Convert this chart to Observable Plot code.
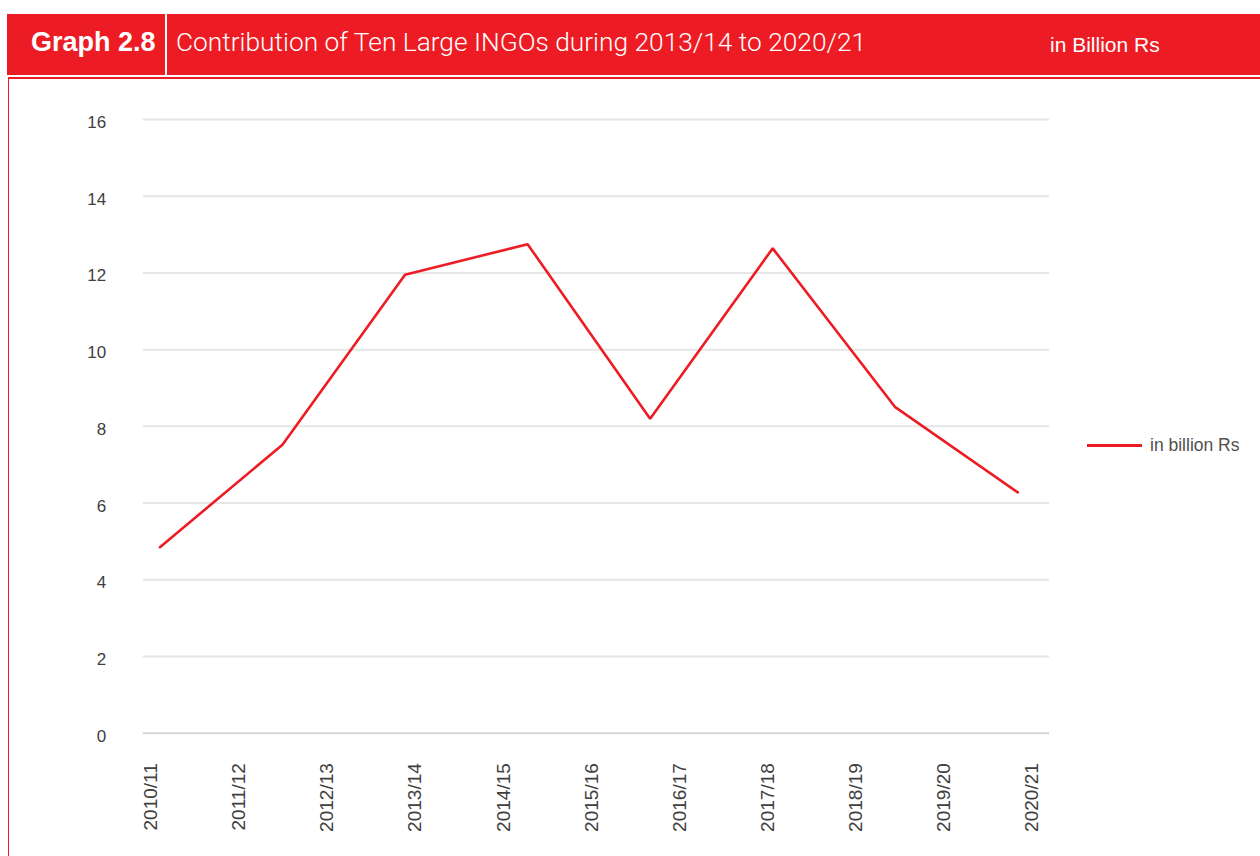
<!DOCTYPE html>
<html>
<head>
<meta charset="utf-8">
<script src="https://cdn.jsdelivr.net/npm/d3@7"></script>
<script src="https://cdn.jsdelivr.net/npm/@observablehq/plot@0.6"></script>
<style>
  html, body { margin: 0; padding: 0; background: #fff; width: 1260px; height: 856px; overflow: hidden; }
  #wrap { position: relative; width: 1260px; height: 856px; font-family: "Liberation Sans", Arial, sans-serif; }
  #band { position: absolute; left: 7px; top: 14px; width: 1253px; height: 61px; background: #ED1C24; }
  #sep { position: absolute; left: 165px; top: 14px; width: 2px; height: 61px; background: #fff; }
  #gnum { position: absolute; left: 31px; top: 26px; color: #fff; font-weight: bold; font-size: 27px; line-height: 32px; }
  #title { position: absolute; left: 176px; top: 27px; color: #fff; font-family: Roboto, "Liberation Sans", sans-serif; font-weight: 300; font-size: 26.3px; line-height: 30px; white-space: nowrap; }
  #unit { position: absolute; left: 1050px; top: 33px; color: #fff; font-size: 21px; line-height: 24px; white-space: nowrap; }
  #box { position: absolute; left: 8px; top: 77px; width: 1260px; height: 800px; border-top: 2px solid #ED1C24; border-left: 1px solid #ED1C24; box-sizing: border-box; }
  #chart { position: absolute; left: 0; top: 80px; }
  #legend { position: absolute; left: 1087px; top: 435px; display: flex; align-items: center; color: #505050; font-size: 17.5px; white-space: nowrap; }
  #legend .sw { width: 55px; height: 0; border-top: 3px solid #ED1C24; margin-right: 8px; }
</style>
</head>
<body>
<div id="wrap">
  <div id="band"></div>
  <div id="sep"></div>
  <div id="gnum">Graph 2.8</div>
  <div id="title">Contribution of Ten Large INGOs during 2013/14 to 2020/21</div>
  <div id="unit">in Billion Rs</div>
  <div id="box"></div>
  <div id="chart"></div>
  <div id="legend"><span class="sw"></span><span>in billion Rs</span></div>
</div>
<script>
// Axis category labels (as printed on the reference x axis)
const axisLabels = ["2010/11","2011/12","2012/13","2013/14","2014/15","2015/16","2016/17","2017/18","2018/19","2019/20","2020/21"];
// Series: fiscal years 2013/14 .. 2020/21
const seriesYears = ["2013/14","2014/15","2015/16","2016/17","2017/18","2018/19","2019/20","2020/21"];
const seriesValues = [4.85, 7.52, 11.95, 12.75, 8.2, 12.64, 8.5, 6.28];
const yTicks = [0, 2, 4, 6, 8, 10, 12, 14, 16];

// The reference spreads the 8 points evenly between the first and last slot of the 11-slot axis
const lineStart = 0.1, lineEnd = 9.84;
const rows = seriesYears.map((y, j) => ({
  year: y,
  value: seriesValues[j],
  pos: lineStart + j * (lineEnd - lineStart) / (seriesYears.length - 1)
}));

const chart = Plot.plot({
  width: 1260,
  height: 776,
  marginTop: 39,
  marginBottom: 123.3,
  marginLeft: 142.7,
  marginRight: 211,
  style: { fontFamily: "'Liberation Sans', Arial, sans-serif", fontSize: "17px", color: "#404040", background: "transparent" },
  x: { type: "linear", domain: [-0.09, 10.2] },
  y: { domain: [0, 16] },
  marks: [
    Plot.ruleY(yTicks.filter(d => d > 0), { stroke: "#e6e6e6", strokeWidth: 2 }),
    Plot.ruleY([0], { stroke: "#d6d6d6", strokeWidth: 2 }),
    Plot.axisY(yTicks, { tickSize: 0, tickPadding: 37, label: null, fill: "#404040", dy: 3 }),
    Plot.axisX(d3.range(axisLabels.length), {
      tickSize: 0, tickPadding: 30, tickRotate: -90, label: null, fill: "#404040", fontSize: 19,
      tickFormat: i => axisLabels[i]
    }),
    Plot.line(rows, { x: "pos", y: "value", stroke: "#ED1C24", strokeWidth: 2.6, strokeLinejoin: "miter" })
  ]
});
document.getElementById("chart").appendChild(chart);
</script>
</body>
</html>
